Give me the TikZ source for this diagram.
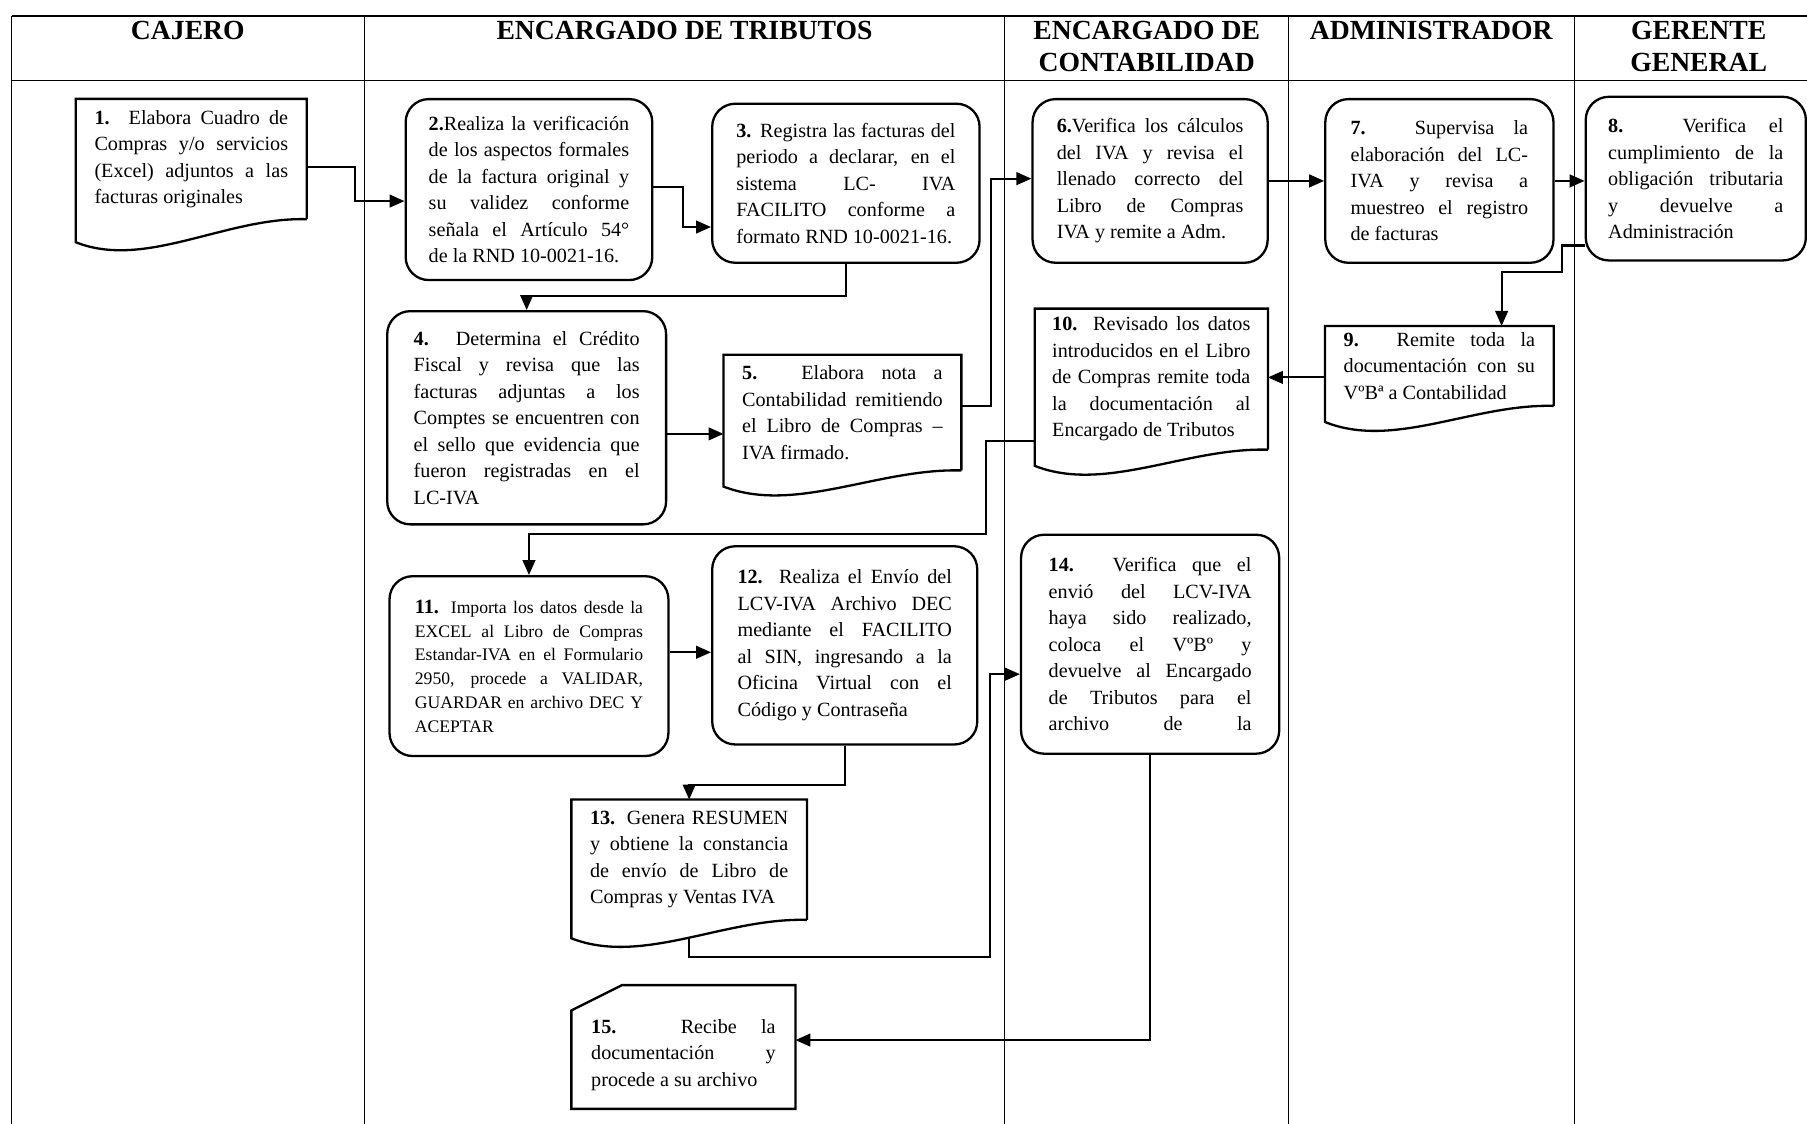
\documentclass[tikz,border=0pt]{standalone}
\usepackage{fontspec}
\setmainfont{Liberation Serif}
\usetikzlibrary{arrows.meta,calc}
\tolerance=9999
\hbadness=10000
\hfuzz=6pt

% outline of a document box: flat top, wavy bottom (node name, depth)
\newcommand{\docwave}[2]{%
  \draw[line width=2pt] (#1.south east) -- (#1.north east) -- (#1.north west)
    -- ([yshift=-#2pt]#1.south west)
    .. controls ($(#1.south west)!0.3!(#1.south east)+(0,#2+24)$)
    and ($(#1.south west)!0.65!(#1.south east)+(0,-2)$) .. (#1.south east);}

\begin{document}
\begin{tikzpicture}[x=1pt, y=-1pt,
    every node/.style={font=\fontsize{17.5}{23}\selectfont, inner sep=0pt},
    rb/.style={draw, line width=2pt, rounded corners=20pt, align=justify},
    db/.style={align=justify},
    hd/.style={font=\fontsize{24}{28}\selectfont\bfseries, align=center, anchor=north},
    fl/.style={line width=1.8pt, -{Triangle[length=13pt,width=11pt]}},
    ln/.style={line width=0.8pt}]
    \path[fill=white, use as bounding box] (0,0) rectangle (1568,975);
    \clip (0,0) rectangle (1568,975);

    % lanes
    \draw[line width=1.2pt] (10,14) -- (1568,14) (10,70) -- (1568,70);
    \draw[ln] (10,14) -- (10,975) (316,14) -- (316,975) (872,14) -- (872,975)
        (1118,14) -- (1118,975) (1366,14) -- (1366,975);

    \node[hd] (hcaj) at (163,18) {CAJERO};
    \node[hd] (htri) at (594,18) {ENCARGADO DE TRIBUTOS};
    \node[hd] (hcon) at (995,18) {ENCARGADO DE\\CONTABILIDAD};
    \node[hd] (hadm) at (1242,18) {ADMINISTRADOR};
    \node[hd] (hger) at (1474,18) {GERENTE\\GENERAL};

    % steps
    \node[db, minimum width=200pt, minimum height=104pt, text width=168pt] (p1) at (166,138)
        {\textbf{1.} Elabora Cuadro de\linebreak Compras y/o servicios\linebreak (Excel) adjuntos a las\linebreak facturas originales};
    \docwave{p1}{20}
    \node[rb, minimum width=214pt, minimum height=157pt, text width=174pt] (p2) at (459,164.5)
        {\textbf{2.}Realiza la verificación\linebreak de los aspectos formales\linebreak de la factura original y\linebreak su validez conforme\linebreak señala el Artículo 54°\linebreak de la RND 10-0021-16.};
    \node[rb, minimum width=232pt, minimum height=138pt, text width=190pt] (p3) at (734,159)
        {\textbf{3.} Registra las facturas del\linebreak periodo a declarar, en el\linebreak sistema LC- IVA\linebreak FACILITO conforme a\linebreak formato RND 10-0021-16.};
    \node[rb, minimum width=242pt, minimum height=185pt, text width=196pt] (p4) at (457,362.5)
        {\textbf{4.} Determina el Crédito\linebreak Fiscal y revisa que las\linebreak facturas adjuntas a los\linebreak Comptes se encuentren con\linebreak el sello que evidencia que\linebreak fueron registradas en el\linebreak LC-IVA};
    \node[db, minimum width=206pt, minimum height=100pt, text width=174pt] (p5) at (731,358)
        {\textbf{5.} Elabora nota a\linebreak Contabilidad remitiendo\linebreak el Libro de Compras --\linebreak IVA firmado.};
    \docwave{p5}{14}
    \node[rb, minimum width=204pt, minimum height=142pt, text width=162pt] (p6) at (998,157)
        {\textbf{6.}Verifica los cálculos\linebreak del IVA y revisa el\linebreak llenado correcto del\linebreak Libro de Compras\linebreak IVA y remite a Adm.};
    \node[rb, minimum width=198pt, minimum height=142pt, text width=154pt] (p7) at (1249,157)
        {\textbf{7.} Supervisa la\linebreak elaboración del LC-\linebreak IVA y revisa a\linebreak muestreo el registro\linebreak de facturas};
    \node[rb, minimum width=191pt, minimum height=142pt, text width=152pt] (p8) at (1471.5,155)
        {\textbf{8.} Verifica el\linebreak cumplimiento de la\linebreak obligación tributaria\linebreak y devuelve a\linebreak Administración};
    \node[db, minimum width=198pt, minimum height=69pt, text width=166pt] (p9) at (1249,317.5)
        {\textbf{9.} Remite toda la\linebreak documentación con su\linebreak VºBª a Contabilidad};
    \docwave{p9}{14}
    \node[db, minimum width=202pt, minimum height=122pt, text width=172pt] (p10) at (999,329)
        {\textbf{10.} Revisado los datos\linebreak introducidos en el Libro\linebreak de Compras remite toda\linebreak la documentación al\linebreak Encargado de Tributos};
    \docwave{p10}{14}
    \node[rb, minimum width=242pt, minimum height=156pt, text width=198pt,
        font=\fontsize{15.3}{20.6}\selectfont] (p11) at (459,578)
        {{\fontsize{17.5}{20.6}\selectfont\bfseries 11.} Importa los datos desde la\linebreak EXCEL al Libro de Compras\linebreak Estandar-IVA en el Formulario\linebreak 2950, procede a VALIDAR,\linebreak GUARDAR en archivo DEC Y\linebreak ACEPTAR};
    \node[rb, minimum width=230pt, minimum height=172pt, text width=186pt] (p12) at (733,560)
        {\textbf{12.} Realiza el Envío del\linebreak LCV-IVA Archivo DEC\linebreak mediante el FACILITO\linebreak al SIN, ingresando a la\linebreak Oficina Virtual con el\linebreak Código y Contraseña};
    \node[db, minimum width=204pt, minimum height=104pt, text width=172pt] (p13) at (598,746)
        {\textbf{13.} Genera RESUMEN\linebreak y obtiene la constancia\linebreak de envío de Libro de\linebreak Compras y Ventas IVA};
    \docwave{p13}{16}
    \node[rb, minimum width=224pt, minimum height=190pt, text width=176pt] (p14) at (998,559)
        {\textbf{14.} Verifica que el\linebreak envió del LCV-IVA\linebreak haya sido realizado,\linebreak coloca el VºBº y\linebreak devuelve al Encargado\linebreak de Tributos para el\linebreak archivo\hfill de\hfill la};
    \node[db, minimum width=194pt, minimum height=93pt, text width=160pt] (p15) at (593,915.5)
        {\textbf{15.} Recibe la\linebreak documentación y\linebreak procede a su archivo};
    \draw[line width=2pt] (p15.south west) -- ([yshift=-8pt]p15.north west)
        -- ([xshift=44pt,yshift=14pt]p15.north west) -- ([yshift=14pt]p15.north east)
        -- (p15.south east) -- cycle;

    % flow
    \draw[fl] ([yshift=-7pt]p1.east) -- ++(42,0) |- ([yshift=-10pt]p2.west);
    \draw[fl] ([yshift=2pt]p2.east) -- ++(26,0) |- ([yshift=-38pt]p3.west);
    \draw[fl] (p3.south) -- ++(0,28) -| (p4.north);
    \coordinate (a45) at ([yshift=-14pt]p4.east);
    \draw[fl] (a45) -- (a45 -| p5.west);
    \draw[fl] ([yshift=6pt]p5.east) -- ++(26,0) |- ([yshift=2pt]p6.west);
    \draw[fl] (p6.east) -- (p7.west);
    \draw[fl] (p7.east) -- (p7.east -| p8.west);
    \draw[fl] ([yshift=-58pt]p8.west) -- ++(-20,0) -- ++(0,23) -| ([xshift=54pt]p9.north);
    \coordinate (a910) at ([yshift=-10pt]p9.west);
    \draw[fl] (a910) -- (a910 -| p10.east);
    \draw[fl] ([yshift=-54pt]p10.west) -- ++(-42,0) -- ++(0,80) -| (p11.north);
    \coordinate (a1112) at ([yshift=12pt]p11.east);
    \draw[fl] (a1112) -- (a1112 -| p12.west);
    \draw[fl] (p12.south) -- ++(0,34) -| (p13.north);
    \draw[fl] ([yshift=-16pt]p13.south) -- ++(0,16) -| ([xshift=-26pt,yshift=-26pt]p14.west)
        -- ([yshift=-26pt]p14.west);
    \draw[fl] (p14.south) |- ([yshift=13pt]p15.east);
\end{tikzpicture}
\end{document}
